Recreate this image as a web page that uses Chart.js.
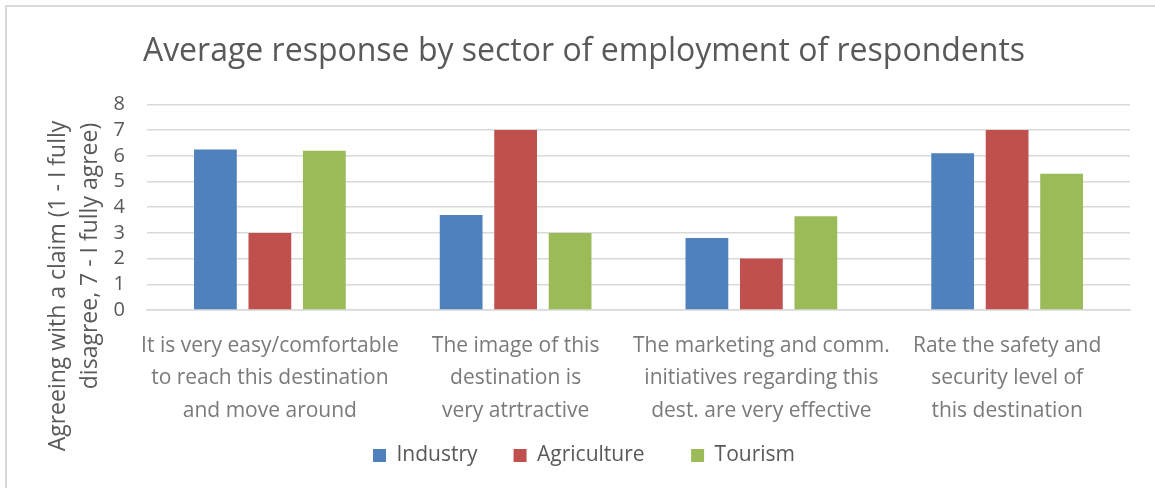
<!DOCTYPE html>
<html>
<head>
<meta charset="utf-8">
<script src="https://cdn.jsdelivr.net/npm/chart.js@4"></script>
<style>
  html, body { margin: 0; padding: 0; background: #fff; overflow: hidden; }
  #frame { position: absolute; left: 5px; top: 5px; width: 1200px; height: 600px; border: 2px solid #d9d9d9; }
  #sectors { position: absolute; left: 0; top: 0; }
</style>
</head>
<body>
<div id="frame"></div>
<canvas id="sectors" width="1155" height="488"></canvas>
<script>
var statements = [
  ["It is very easy/comfortable", "to reach this destination", "and move around"],
  ["The image of this", "destination is", "very atrtractive"],
  ["The marketing and comm.", "initiatives regarding this", "dest. are very effective"],
  ["Rate the safety and", "security level of", "this destination"]
];
var industry = [6.25, 3.7, 2.8, 6.1];
var agriculture = [3, 7, 2, 7];
var tourism = [6.2, 3, 3.65, 5.3];
var yTitleLines = ["Agreeing with a claim (1 - I fully", "disagree, 7 - I fully agree)"];

var FONT = "'Open Sans', sans-serif";

// rotated two-line axis title, each line placed on its own centre
var axisTitle = {
  id: 'axisTitle',
  afterDraw: function(chart) {
    var ctx = chart.ctx;
    var spots = [[65, 286], [97, 256]];
    ctx.save();
    ctx.fillStyle = '#595959';
    ctx.font = '23px ' + FONT;
    ctx.textAlign = 'center';
    ctx.textBaseline = 'alphabetic';
    yTitleLines.forEach(function(line, i) {
      ctx.save();
      ctx.translate(spots[i][0], spots[i][1]);
      ctx.rotate(-Math.PI / 2);
      ctx.fillText(line, 0, 0);
      ctx.restore();
    });
    ctx.restore();
  }
};

// trailing gaps after each legend entry
var legendGaps = ['\u2002\u2002', '\u2002\u2002\u2002', ''];

var chart = new Chart(document.getElementById('sectors'), {
  type: 'bar',
  data: {
    labels: statements,
    datasets: [
      { label: 'Industry', data: industry, backgroundColor: '#4f81bd' },
      { label: 'Agriculture', data: agriculture, backgroundColor: '#c0504d' },
      { label: 'Tourism', data: tourism, backgroundColor: '#9bbb59' }
    ]
  },
  options: {
    responsive: false,
    animation: false,
    devicePixelRatio: 1,
    categoryPercentage: 0.665,
    barPercentage: 0.785,
    layout: { padding: { left: 38, right: 25, top: 0, bottom: 12 } },
    plugins: {
      title: {
        display: true,
        text: 'Average response by sector of employment of respondents',
        color: '#595959',
        font: { family: FONT, size: 32, weight: 'normal' },
        padding: { top: 33, bottom: 33 }
      },
      legend: {
        position: 'bottom',
        labels: {
          boxWidth: 13,
          boxHeight: 13,
          padding: 15,
          color: '#595959',
          font: { family: FONT, size: 21 },
          generateLabels: function(chart) {
            var items = Chart.defaults.plugins.legend.labels.generateLabels(chart);
            items.forEach(function(item, i) {
              item.text = item.text + legendGaps[i];
            });
            return items;
          }
        }
      },
      tooltip: { enabled: false }
    },
    scales: {
      x: {
        grid: { display: false, drawTicks: false },
        border: { color: '#d9d9d9', width: 1.5 },
        ticks: {
          color: '#7a7a7a',
          padding: 19.5,
          maxRotation: 0,
          autoSkip: false,
          font: { family: FONT, size: 21, lineHeight: 1.548 }
        },
        afterFit: function(scale) { scale.height = 120; }
      },
      y: {
        min: 0,
        max: 8,
        grid: { color: '#d9d9d9', lineWidth: 1.5, drawTicks: false },
        border: { display: false },
        ticks: {
          stepSize: 1,
          autoSkip: false,
          color: '#595959',
          padding: 22,
          font: { family: FONT, size: 20 }
        },
        afterFit: function(scale) { scale.width = 109; }
      }
    }
  },
  plugins: [axisTitle]
});
</script>
</body>
</html>
